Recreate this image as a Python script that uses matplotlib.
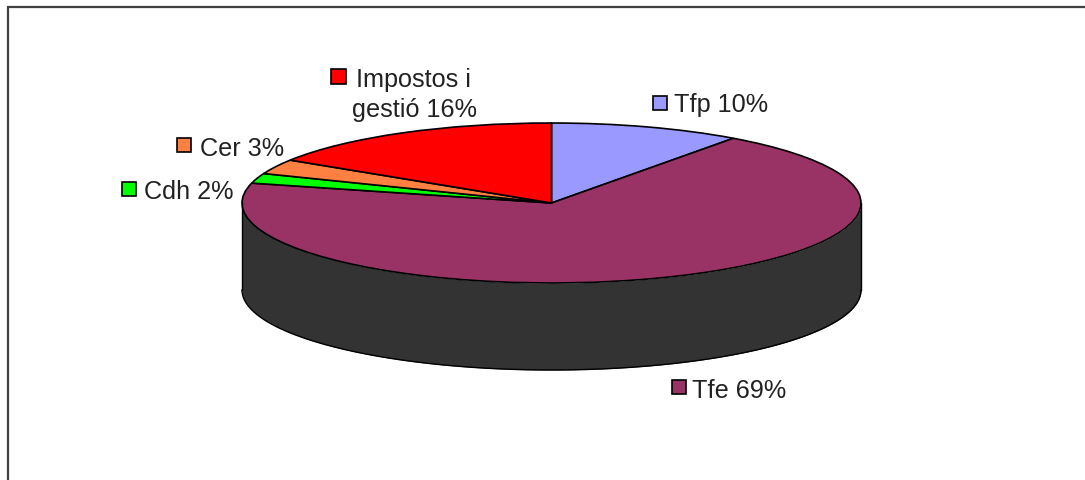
import numpy as np
import matplotlib
matplotlib.use("Agg")
import matplotlib.pyplot as plt
from matplotlib.patches import Rectangle

labels = ["Tfp 10%", "Tfe 69%", "Cdh 2%", "Cer 3%", "Impostos i\ngestió 16%"]
values = [10, 69, 2, 3, 16]
colors = ["#9999FF", "#993366", "#00FF00", "#FF8040", "#FF0000"]

plt.rcParams["font.family"] = ["Liberation Sans", "DejaVu Sans"]

W, H = 1085, 480
fig = plt.figure(figsize=(W / 100, H / 100), dpi=100, facecolor="white")

# background axes in pixel coords, for the frame and the labels
bg = fig.add_axes([0, 0, 1, 1])
bg.set_xlim(0, W)
bg.set_ylim(H, 0)
bg.axis("off")
bg.plot([8, 8, W], [H, 7, 7], color="#404040", lw=1.6, solid_joinstyle="miter")

# pie ellipse, 242..861 wide and 123..283 tall
left, right, top, bottom = 242, 861, 123, 283
ax = fig.add_axes([left / W, 1 - bottom / H, (right - left) / W, (bottom - top) / H])
ax.patch.set_alpha(0)

# side wall below the front half of the ellipse
depth = 87 / ((bottom - top) / 2)
t = np.linspace(0, np.pi, 200)
ax.fill_between(np.cos(t), -np.sin(t), -np.sin(t) - depth, color="#333333", lw=0, clip_on=False)
ax.plot(np.cos(t), -np.sin(t) - depth, color="black", lw=1, clip_on=False)
ax.plot([-1, -1], [0, -depth], color="black", lw=1, clip_on=False)
ax.plot([1, 1], [0, -depth], color="black", lw=1, clip_on=False)

ax.pie(values, colors=colors, startangle=90, counterclock=False, radius=1,
       wedgeprops={"edgecolor": "black", "linewidth": 1.2})
ax.set_aspect("auto")
ax.set_xlim(-1, 1)
ax.set_ylim(-1, 1)
for p in ax.patches:
    p.set_clip_on(False)

# label text x, y centre and swatch x, y centre
text_pos = [(674, 105), (692, 391), (144, 192), (200, 149), (414, 95)]
swatch_pos = [(660, 103), (679, 387), (129, 189), (184, 145), (338, 76)]
swatch_size = [14, 14, 14, 14, 15]

for i in range(len(labels)):
    ha = "center" if "\n" in labels[i] else "left"
    bg.text(text_pos[i][0], text_pos[i][1], labels[i], fontsize=18.2, color="#222222",
            ha=ha, va="center", linespacing=1.35)
    s = swatch_size[i]
    bg.add_patch(Rectangle((swatch_pos[i][0] - s / 2, swatch_pos[i][1] - s / 2), s, s,
                           facecolor=colors[i], edgecolor="black", lw=1.2))

fig.savefig("out.png", dpi=100)
